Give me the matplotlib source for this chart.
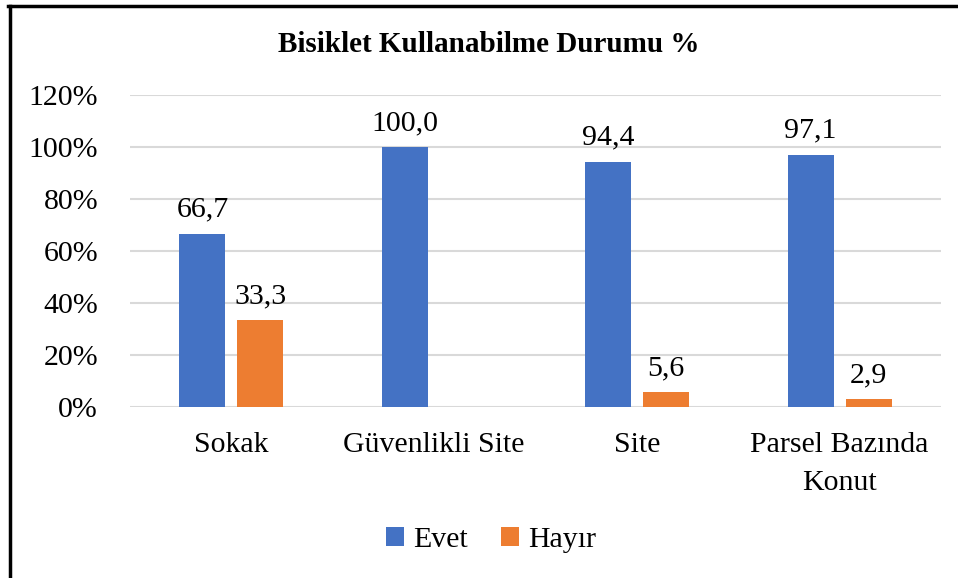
import matplotlib.pyplot as plt
from matplotlib.lines import Line2D
import numpy as np

plt.rcParams['font.family'] = ['Liberation Serif', 'DejaVu Serif']

categories = ["Sokak", "Güvenlikli Site", "Site", "Parsel Bazında\nKonut"]
evet = [66.7, 100.0, 94.4, 97.1]
hayir = [33.3, 0.0, 5.6, 2.9]
yticks = [0, 20, 40, 60, 80, 100, 120]

blue = "#4472C4"
orange = "#ED7D31"

fig = plt.figure(figsize=(9.58, 5.78), dpi=100)
ax = fig.add_axes([130 / 958, 1 - 407 / 578, 811 / 958, 312 / 578])

x = np.arange(len(categories))
w = 0.227
off = 0.143
b1 = ax.bar(x - off, evet, w, color=blue, label="Evet", zorder=3)
b2 = ax.bar(x + off, hayir, w, color=orange, label="Hayır", zorder=3)

# value labels, comma as decimal separator
for bars, vals in ((b1, evet), (b2, hayir)):
    for r, v in zip(bars, vals):
        if v == 0:
            continue
        ax.annotate(f"{v:.1f}".replace(".", ","),
                    (r.get_x() + r.get_width() / 2, v),
                    xytext=(0, 8), textcoords="offset points",
                    ha="center", va="bottom", fontsize=21.5)

ax.set_xlim(-0.5, len(categories) - 0.5)
ax.set_ylim(0, 120)
ax.set_yticks(yticks)
ax.set_yticklabels([f"{t}%" for t in yticks], fontsize=21.5)
ax.set_xticks(x)
ax.set_xticklabels(categories, fontsize=21.5, linespacing=1.6)
ax.tick_params(axis="both", length=0)
ax.tick_params(axis="y", pad=23)
ax.tick_params(axis="x", pad=18)
ax.grid(axis="y", color="#D9D9D9", linewidth=1.5, zorder=0)
for s in ax.spines.values():
    s.set_visible(False)

fig.text(489 / 958, 1 - 45 / 578, "Bisiklet Kullanabilme Durumu %",
         ha="center", va="center", fontsize=21, fontweight="bold")

ax.legend(loc="center", bbox_to_anchor=(491 / 958, 1 - 540 / 578),
          bbox_transform=fig.transFigure, ncol=2, frameon=False,
          fontsize=21.5, handlelength=0.6, handleheight=0.6,
          handletextpad=0.3, columnspacing=1.1)

# frame edges visible in the crop (top and left)
fig.add_artist(Line2D([8 / 958, 1], [1 - 6 / 578, 1 - 6 / 578],
                      transform=fig.transFigure, color="black", linewidth=2.5))
fig.add_artist(Line2D([9.5 / 958, 9.5 / 958], [0, 1 - 6 / 578],
                      transform=fig.transFigure, color="black", linewidth=2.5))

fig.savefig("out.png", dpi=100)
